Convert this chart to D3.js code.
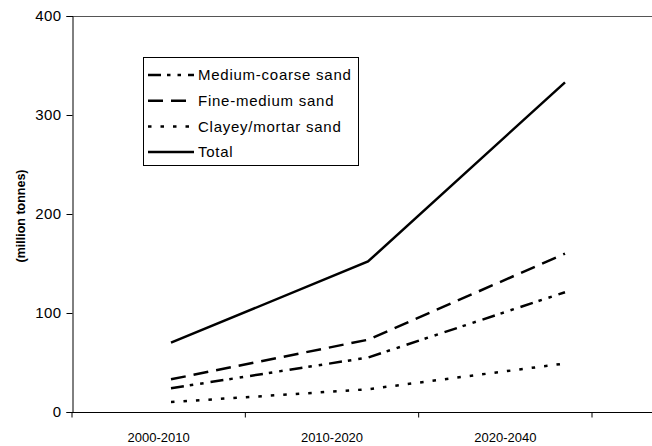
<!DOCTYPE html>
<html>
<head>
<meta charset="utf-8">
<script src="https://cdn.jsdelivr.net/npm/d3@7"></script>
<style>
  body { margin: 0; background: #fff; }
  svg { font-family: "Liberation Sans", Arial, sans-serif; }
</style>
</head>
<body>
<svg id="chart" width="652" height="446"></svg>
<script>
// data
var periods = ["2000-2010", "2010-2020", "2020-2040"];
var mediumCoarse = [24, 55, 121];
var fineMedium = [33, 73, 160];
var clayey = [10, 23, 49];
var total = [70, 152, 333];
var yTicks = [0, 100, 200, 300, 400];

var series = [
    { name: "Medium-coarse sand", values: mediumCoarse, dash: "13,6,3.5,7,3.5,7" },
    { name: "Fine-medium sand", values: fineMedium, dash: "15,8" },
    { name: "Clayey/mortar sand", values: clayey, dash: "3.5,9" },
    { name: "Total", values: total, dash: null }
];

var svg = d3.select("#chart");

var plotLeft = 72, plotRight = 652, plotTop = 16, plotBottom = 412;

var y = d3.scaleLinear().domain([0, 400]).range([plotBottom, plotTop]);

// category axis (labels/ticks) and point positions for the lines
var xBand = d3.scaleBand().domain(periods).range([plotLeft, 592]);
var xPoint = d3.scalePoint().domain(periods).range([171, 565]);

// top frame line
svg.append("line")
    .attr("x1", plotLeft).attr("x2", plotRight)
    .attr("y1", plotTop + 0.5).attr("y2", plotTop + 0.5)
    .attr("stroke", "#555").attr("stroke-width", 1);

// y axis
var yAxis = svg.append("g")
    .attr("transform", "translate(" + (plotLeft + 0.5) + ",0)")
    .call(d3.axisLeft(y).tickValues(yTicks).tickSize(6).tickPadding(5));
yAxis.select(".domain").attr("stroke", "#000");
yAxis.selectAll("text")
    .attr("font-size", 15)
    .attr("letter-spacing", 0.4)
    .attr("fill", "#000");

// x axis
var xAxis = svg.append("g")
    .attr("transform", "translate(0," + (plotBottom + 0.5) + ")");
xAxis.append("line")
    .attr("x1", plotLeft).attr("x2", plotRight)
    .attr("stroke", "#000").attr("stroke-width", 1.2);
xAxis.selectAll(".tick")
    .data(periods.concat(["end"]))
    .enter().append("line")
    .attr("x1", function(d, i) { return plotLeft + i * xBand.step(); })
    .attr("x2", function(d, i) { return plotLeft + i * xBand.step(); })
    .attr("y1", 0).attr("y2", 5)
    .attr("stroke", "#000");
xAxis.selectAll("text")
    .data(periods)
    .enter().append("text")
    .attr("x", function(d) { return xBand(d) + xBand.bandwidth() / 2; })
    .attr("y", 29)
    .attr("text-anchor", "middle")
    .attr("font-size", 13)
    .text(function(d) { return d; });

// y axis title
svg.append("text")
    .attr("transform", "translate(25,216) rotate(-90)")
    .attr("text-anchor", "middle")
    .attr("font-size", 12.5)
    .attr("font-weight", "bold")
    .text("(million tonnes)");

// lines
var line = d3.line()
    .x(function(d, i) { return xPoint(periods[i]); })
    .y(function(d) { return y(d); });

svg.selectAll(".series")
    .data(series)
    .enter().append("path")
    .attr("class", "series")
    .attr("d", function(d) { return line(d.values); })
    .attr("fill", "none")
    .attr("stroke", "#000")
    .attr("stroke-width", 2.5)
    .attr("stroke-dasharray", function(d) { return d.dash; });

// legend
var legend = svg.append("g");
legend.append("rect")
    .attr("x", 143.5).attr("y", 57.5)
    .attr("width", 215).attr("height", 108)
    .attr("fill", "#fff").attr("stroke", "#000");

var rows = legend.selectAll(".row")
    .data(series)
    .enter().append("g")
    .attr("class", "row")
    .attr("transform", function(d, i) { return "translate(0," + (75 + i * 25.7) + ")"; });

rows.append("line")
    .attr("x1", 148).attr("x2", 194)
    .attr("stroke", "#000")
    .attr("stroke-width", 2.5)
    .attr("stroke-dasharray", function(d) { return d.dash; });

rows.append("text")
    .attr("x", 198)
    .attr("dy", "0.35em")
    .attr("font-size", 15)
    .attr("letter-spacing", 0.75)
    .text(function(d) { return d.name; });
</script>
</body>
</html>
